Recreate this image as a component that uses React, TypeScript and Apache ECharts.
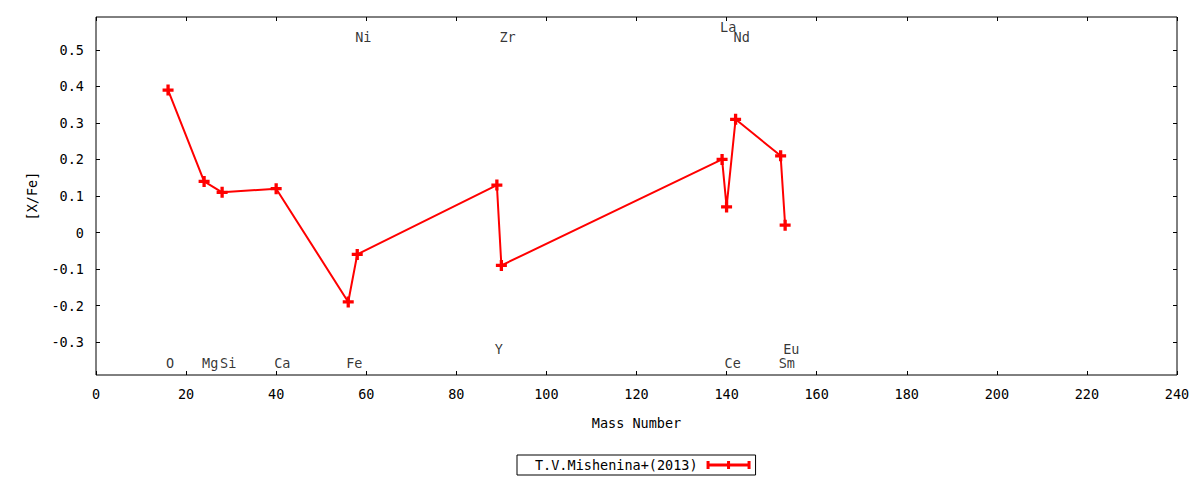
import React, { useEffect, useRef } from "react";
import * as echarts from "echarts";

const massNumbers = [16, 24, 28, 40, 56, 58, 89, 90, 139, 140, 142, 152, 153];
const xFeValues = [0.39, 0.14, 0.11, 0.12, -0.19, -0.06, 0.13, -0.09, 0.2, 0.07, 0.31, 0.21, 0.02];
const seriesName = "T.V.Mishenina+(2013)";

const elementNames = ["O", "Mg", "Si", "Ca", "Fe", "Ni", "Y", "Zr", "La", "Ce", "Nd", "Sm", "Eu"];
const elementMass = [16, 24, 28, 40, 56, 58, 89, 90, 139, 140, 142, 152, 153];
const elementLabelY = [-0.358, -0.358, -0.358, -0.358, -0.358, 0.535, -0.32, 0.535, 0.562, -0.358, 0.535, -0.358, -0.32];

const yTicks = [-0.3, -0.2, -0.1, 0, 0.1, 0.2, 0.3, 0.4, 0.5];

const FONT = "DejaVu Sans Mono";
const FS = 13.5;

export default function App() {
  const ref = useRef<HTMLDivElement>(null);
  useEffect(() => {
    if (!ref.current) return;
    const chart = echarts.init(ref.current, null, { renderer: "svg" });
    const plusPath = "path://M3.5 0H6.5V3.5H10V6.5H6.5V10H3.5V6.5H0V3.5H3.5Z";
    const legendIcon =
      "path://M0 0H3V2.5H20.5V0H23.5V2.5H41V0H44V8H41V5.5H23.5V8H20.5V5.5H3V8H0Z";
    const axisCommon = {
      axisLine: { show: false, onZero: false },
      splitLine: { show: false },
    };
    const tick = { show: true, inside: true, length: 4, lineStyle: { color: "#000", width: 1 } };
    chart.setOption({
      animation: false,
      grid: {
        left: 96,
        right: 23,
        top: 17,
        bottom: 105,
        show: true,
        borderColor: "#000",
        borderWidth: 1,
        backgroundColor: "transparent",
      },
      legend: {
        data: [{ name: seriesName, icon: legendIcon }],
        left: 517,
        top: 455,
        align: "right",
        itemWidth: 44,
        itemHeight: 8,
        borderColor: "#000",
        borderWidth: 1,
        padding: [3, 5, 3, 18],
        textStyle: { fontFamily: FONT, fontSize: FS, color: "#000", lineHeight: 14, padding: [0, 4, 0, 0] },
        itemStyle: { color: "#ff0000" },
        selectedMode: false,
      },
      xAxis: [
        {
          type: "value",
          min: 0,
          max: 240,
          interval: 20,
          position: "bottom",
          name: "Mass Number",
          nameLocation: "middle",
          nameGap: 41,
          nameTextStyle: { fontFamily: FONT, fontSize: FS, color: "#000" },
          axisTick: tick,
          axisLabel: { fontFamily: FONT, fontSize: FS, color: "#000", margin: 12 },
          ...axisCommon,
        },
        {
          type: "value",
          min: 0,
          max: 240,
          interval: 20,
          position: "top",
          axisTick: tick,
          axisLabel: { show: false },
          ...axisCommon,
        },
      ],
      yAxis: [
        {
          type: "value",
          min: -0.39,
          max: 0.59,
          position: "left",
          name: "[X/Fe]",
          nameLocation: "middle",
          nameGap: 57,
          nameRotate: 90,
          nameTextStyle: { fontFamily: FONT, fontSize: FS, color: "#000" },
          axisTick: { ...tick, customValues: yTicks },
          axisLabel: { fontFamily: FONT, fontSize: FS, color: "#000", margin: 12, customValues: yTicks },
          ...axisCommon,
        },
        {
          type: "value",
          min: -0.39,
          max: 0.59,
          position: "right",
          axisTick: { ...tick, customValues: yTicks },
          axisLabel: { show: false, customValues: yTicks },
          ...axisCommon,
        },
      ],
      series: [
        {
          name: seriesName,
          type: "line",
          xAxisIndex: 0,
          yAxisIndex: 0,
          data: massNumbers.map((m, i) => [m, xFeValues[i]]),
          symbol: plusPath,
          symbolSize: 11,
          lineStyle: { color: "#ff0000", width: 2 },
          itemStyle: { color: "#ff0000" },
          z: 3,
        },
        {
          name: "labels",
          type: "scatter",
          xAxisIndex: 0,
          yAxisIndex: 0,
          symbolSize: 1,
          itemStyle: { color: "transparent" },
          data: elementNames.map((n, i) => ({ name: n, value: [elementMass[i], elementLabelY[i]] })),
          label: {
            show: true,
            formatter: "{b}",
            position: "inside",
            align: "left",
            verticalAlign: "middle",
            offset: [-2, 0],
            fontFamily: FONT,
            fontSize: FS,
            color: "#000",
          },
          silent: true,
          z: 4,
        },
      ],
    });
    return () => chart.dispose();
  }, []);
  return (
    <div
      ref={ref}
      style={{ position: "fixed", left: 0, top: 0, width: 1200, height: 480, background: "#fff" }}
    />
  );
}
